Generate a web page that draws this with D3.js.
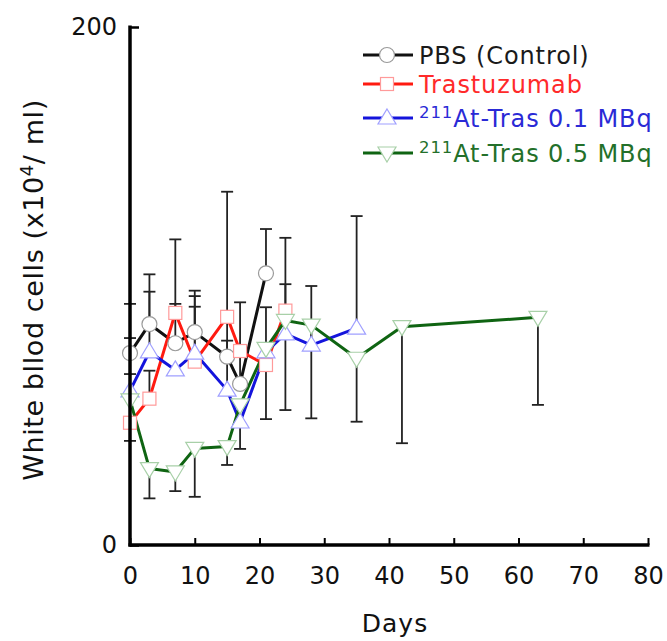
<!DOCTYPE html>
<html>
<head>
<meta charset="utf-8">
<script src="https://cdn.jsdelivr.net/npm/d3@7"></script>
<style>
  html, body { margin: 0; padding: 0; background: #fff; }
  svg { display: block; }
  text { font-family: "DejaVu Sans", sans-serif; }
</style>
</head>
<body>
<div id="chart"></div>
<script>
// ---- Data ----
const xTicks = [0, 10, 20, 30, 40, 50, 60, 70, 80];
const yTicks = [0, 200];

const pbsDays    = [0, 3, 7, 10, 15, 17, 21];
const pbsValues  = [74.1, 85.3, 77.9, 82.2, 72.7, 62.2, 104.9];
const pbsErrEnds = [93.1, 104.5, 118.0, 98.2, 136.4, 93.7, 122.0];

const trasDays    = [0, 3, 7, 10, 15, 17, 21, 24];
const trasValues  = [47.2, 56.5, 89.6, 70.8, 88.1, 74.9, 69.5, 90.5];
const trasErrEnds = [66.0, 67.3, 93.1, 92.0, null, null, null, 118.6];

const at01Days    = [0, 3, 7, 10, 15, 17, 21, 24, 28, 35];
const at01Values  = [59.5, 74.6, 67.6, 74.1, 59.8, 47.5, 74.6, 81.5, 77.2, 83.7];
const at01ErrEnds = [79.9, 97.8, null, 96.1, 78.9, null, 91.8, 100.7, 100.0, 127.0];

const at05Days    = [0, 3, 7, 10, 15, 17, 21, 24, 28, 35, 42, 63];
const at05Values  = [56.0, 29.5, 28.2, 37.3, 38.0, 54.1, 75.9, 86.7, 84.9, 72.1, 84.3, 87.9];
const at05ErrEnds = [40.2, 18.0, 20.8, 18.6, 30.9, 37.1, 48.6, 52.1, 48.9, 47.6, 39.3, 54.1];

const seriesNames = ["PBS (Control)", "Trastuzumab", "At-Tras 0.1 MBq", "At-Tras 0.5 MBq"];
const seriesSup   = ["", "", "211", "211"];

// ---- Build ----
const W = 667, H = 641;
const svg = d3.select("#chart").append("svg").attr("width", W).attr("height", H);

const x = d3.scaleLinear().domain([0, 80]).range([130, 648]);
const y = d3.scaleLinear().domain([0, 200]).range([545, 27]);

const series = [
  { name: seriesNames[0], sup: seriesSup[0], days: pbsDays, values: pbsValues, err: pbsErrEnds,
    line: "#111111", text: "#1a1a1a", mstroke: "#9a9a9a", marker: "circle" },
  { name: seriesNames[1], sup: seriesSup[1], days: trasDays, values: trasValues, err: trasErrEnds,
    line: "#ff1a10", text: "#ff2a2a", mstroke: "#ff9a9a", marker: "square" },
  { name: seriesNames[2], sup: seriesSup[2], days: at01Days, values: at01Values, err: at01ErrEnds,
    line: "#1414dc", text: "#2a2ad6", mstroke: "#a0a0ff", marker: "up" },
  { name: seriesNames[3], sup: seriesSup[3], days: at05Days, values: at05Values, err: at05ErrEnds,
    line: "#0f6412", text: "#23702a", mstroke: "#a8d0a8", marker: "down" }
];

function drawMarker(g, type, cx, cy, stroke) {
  if (type === "circle") {
    g.append("circle").attr("cx", cx).attr("cy", cy).attr("r", 7.5)
      .attr("fill", "#fff").attr("stroke", stroke).attr("stroke-width", 1.2);
  } else if (type === "square") {
    g.append("rect").attr("x", cx - 6.5).attr("y", cy - 6.5).attr("width", 13).attr("height", 13)
      .attr("fill", "#fff").attr("stroke", stroke).attr("stroke-width", 1.2);
  } else if (type === "up") {
    g.append("path").attr("d", `M${cx},${cy - 9} L${cx + 9},${cy + 6} L${cx - 9},${cy + 6} Z`)
      .attr("fill", "#fff").attr("stroke", stroke).attr("stroke-width", 1.2);
  } else {
    g.append("path").attr("d", `M${cx},${cy + 9} L${cx + 9},${cy - 6} L${cx - 9},${cy - 6} Z`)
      .attr("fill", "#fff").attr("stroke", stroke).attr("stroke-width", 1.2);
  }
}

// error bars (one-sided, cap at far end)
const gErr = svg.append("g");
series.forEach(s => {
  s.days.forEach((d, i) => {
    const e = s.err[i];
    if (e === null) return;
    const px = x(d);
    gErr.append("line").attr("x1", px).attr("x2", px)
      .attr("y1", y(s.values[i])).attr("y2", y(e))
      .attr("stroke", "#222").attr("stroke-width", 1.8);
    gErr.append("line").attr("x1", px - 6).attr("x2", px + 6)
      .attr("y1", y(e)).attr("y2", y(e))
      .attr("stroke", "#222").attr("stroke-width", 1.8);
  });
});

// lines
const line = d3.line().x(d => x(d[0])).y(d => y(d[1]));
const gLines = svg.append("g");
series.forEach(s => {
  gLines.append("path")
    .attr("d", line(s.days.map((d, i) => [d, s.values[i]])))
    .attr("fill", "none").attr("stroke", s.line).attr("stroke-width", 3)
    .attr("stroke-linejoin", "round");
});

// markers
const gMarks = svg.append("g");
series.forEach(s => {
  s.days.forEach((d, i) => drawMarker(gMarks, s.marker, x(d), y(s.values[i]), s.mstroke));
});

// axes
const xAxis = d3.axisBottom(x).tickValues(xTicks).tickSizeInner(-7).tickSizeOuter(0).tickPadding(22);
const gx = svg.append("g").attr("transform", "translate(0,545)").call(xAxis);
gx.select(".domain").attr("stroke", "#000").attr("stroke-width", 3.5)
  .attr("d", "M128.5,0H649.5");
gx.selectAll(".tick line").attr("stroke", "#000").attr("stroke-width", 2);
gx.selectAll(".tick text").attr("font-size", 24).attr("fill", "#111")
  .style("font-family", "DejaVu Sans");

const yAxis = d3.axisLeft(y).tickValues(yTicks).tickSizeInner(-9).tickSizeOuter(0).tickPadding(13);
const gy = svg.append("g").attr("transform", "translate(130,0)").call(yAxis);
gy.select(".domain").attr("stroke", "#000").attr("stroke-width", 3.5)
  .attr("d", "M0,25.5V546.5");
gy.selectAll(".tick line").attr("stroke", "#000").attr("stroke-width", 2.5);
gy.selectAll(".tick text").attr("font-size", 24).attr("fill", "#111")
  .style("font-family", "DejaVu Sans");

// axis titles
svg.append("text").attr("x", 395).attr("y", 632).attr("text-anchor", "middle")
  .attr("font-size", 25).attr("letter-spacing", 1).attr("fill", "#111").text("Days");

const yl = svg.append("text")
  .attr("transform", "translate(43,290) rotate(-90)")
  .attr("text-anchor", "middle").attr("font-size", 27).attr("letter-spacing", 0.6).attr("fill", "#111");
yl.append("tspan").text("White bllod cells (x10");
yl.append("tspan").attr("font-size", 18).attr("dy", -10).text("4");
yl.append("tspan").attr("dy", 10).text("/ ml)");

// legend
const legRows = [55, 84, 118, 153];
const legBase = [64, 93, 127, 162];
const gLeg = svg.append("g");
series.forEach((s, i) => {
  gLeg.append("line").attr("x1", 363).attr("x2", 413)
    .attr("y1", legRows[i]).attr("y2", legRows[i])
    .attr("stroke", s.line).attr("stroke-width", 3);
  drawMarker(gLeg, s.marker, 387, legRows[i], s.mstroke);
  const t = gLeg.append("text").attr("x", 419).attr("y", legBase[i])
    .attr("font-size", 24).attr("letter-spacing", 0.9).attr("fill", s.text);
  if (s.sup) {
    t.append("tspan").attr("font-size", 16.5).attr("dy", -9).text(s.sup);
    t.append("tspan").attr("dy", 9).text(s.name);
  } else {
    t.text(s.name);
  }
});
</script>
</body>
</html>
